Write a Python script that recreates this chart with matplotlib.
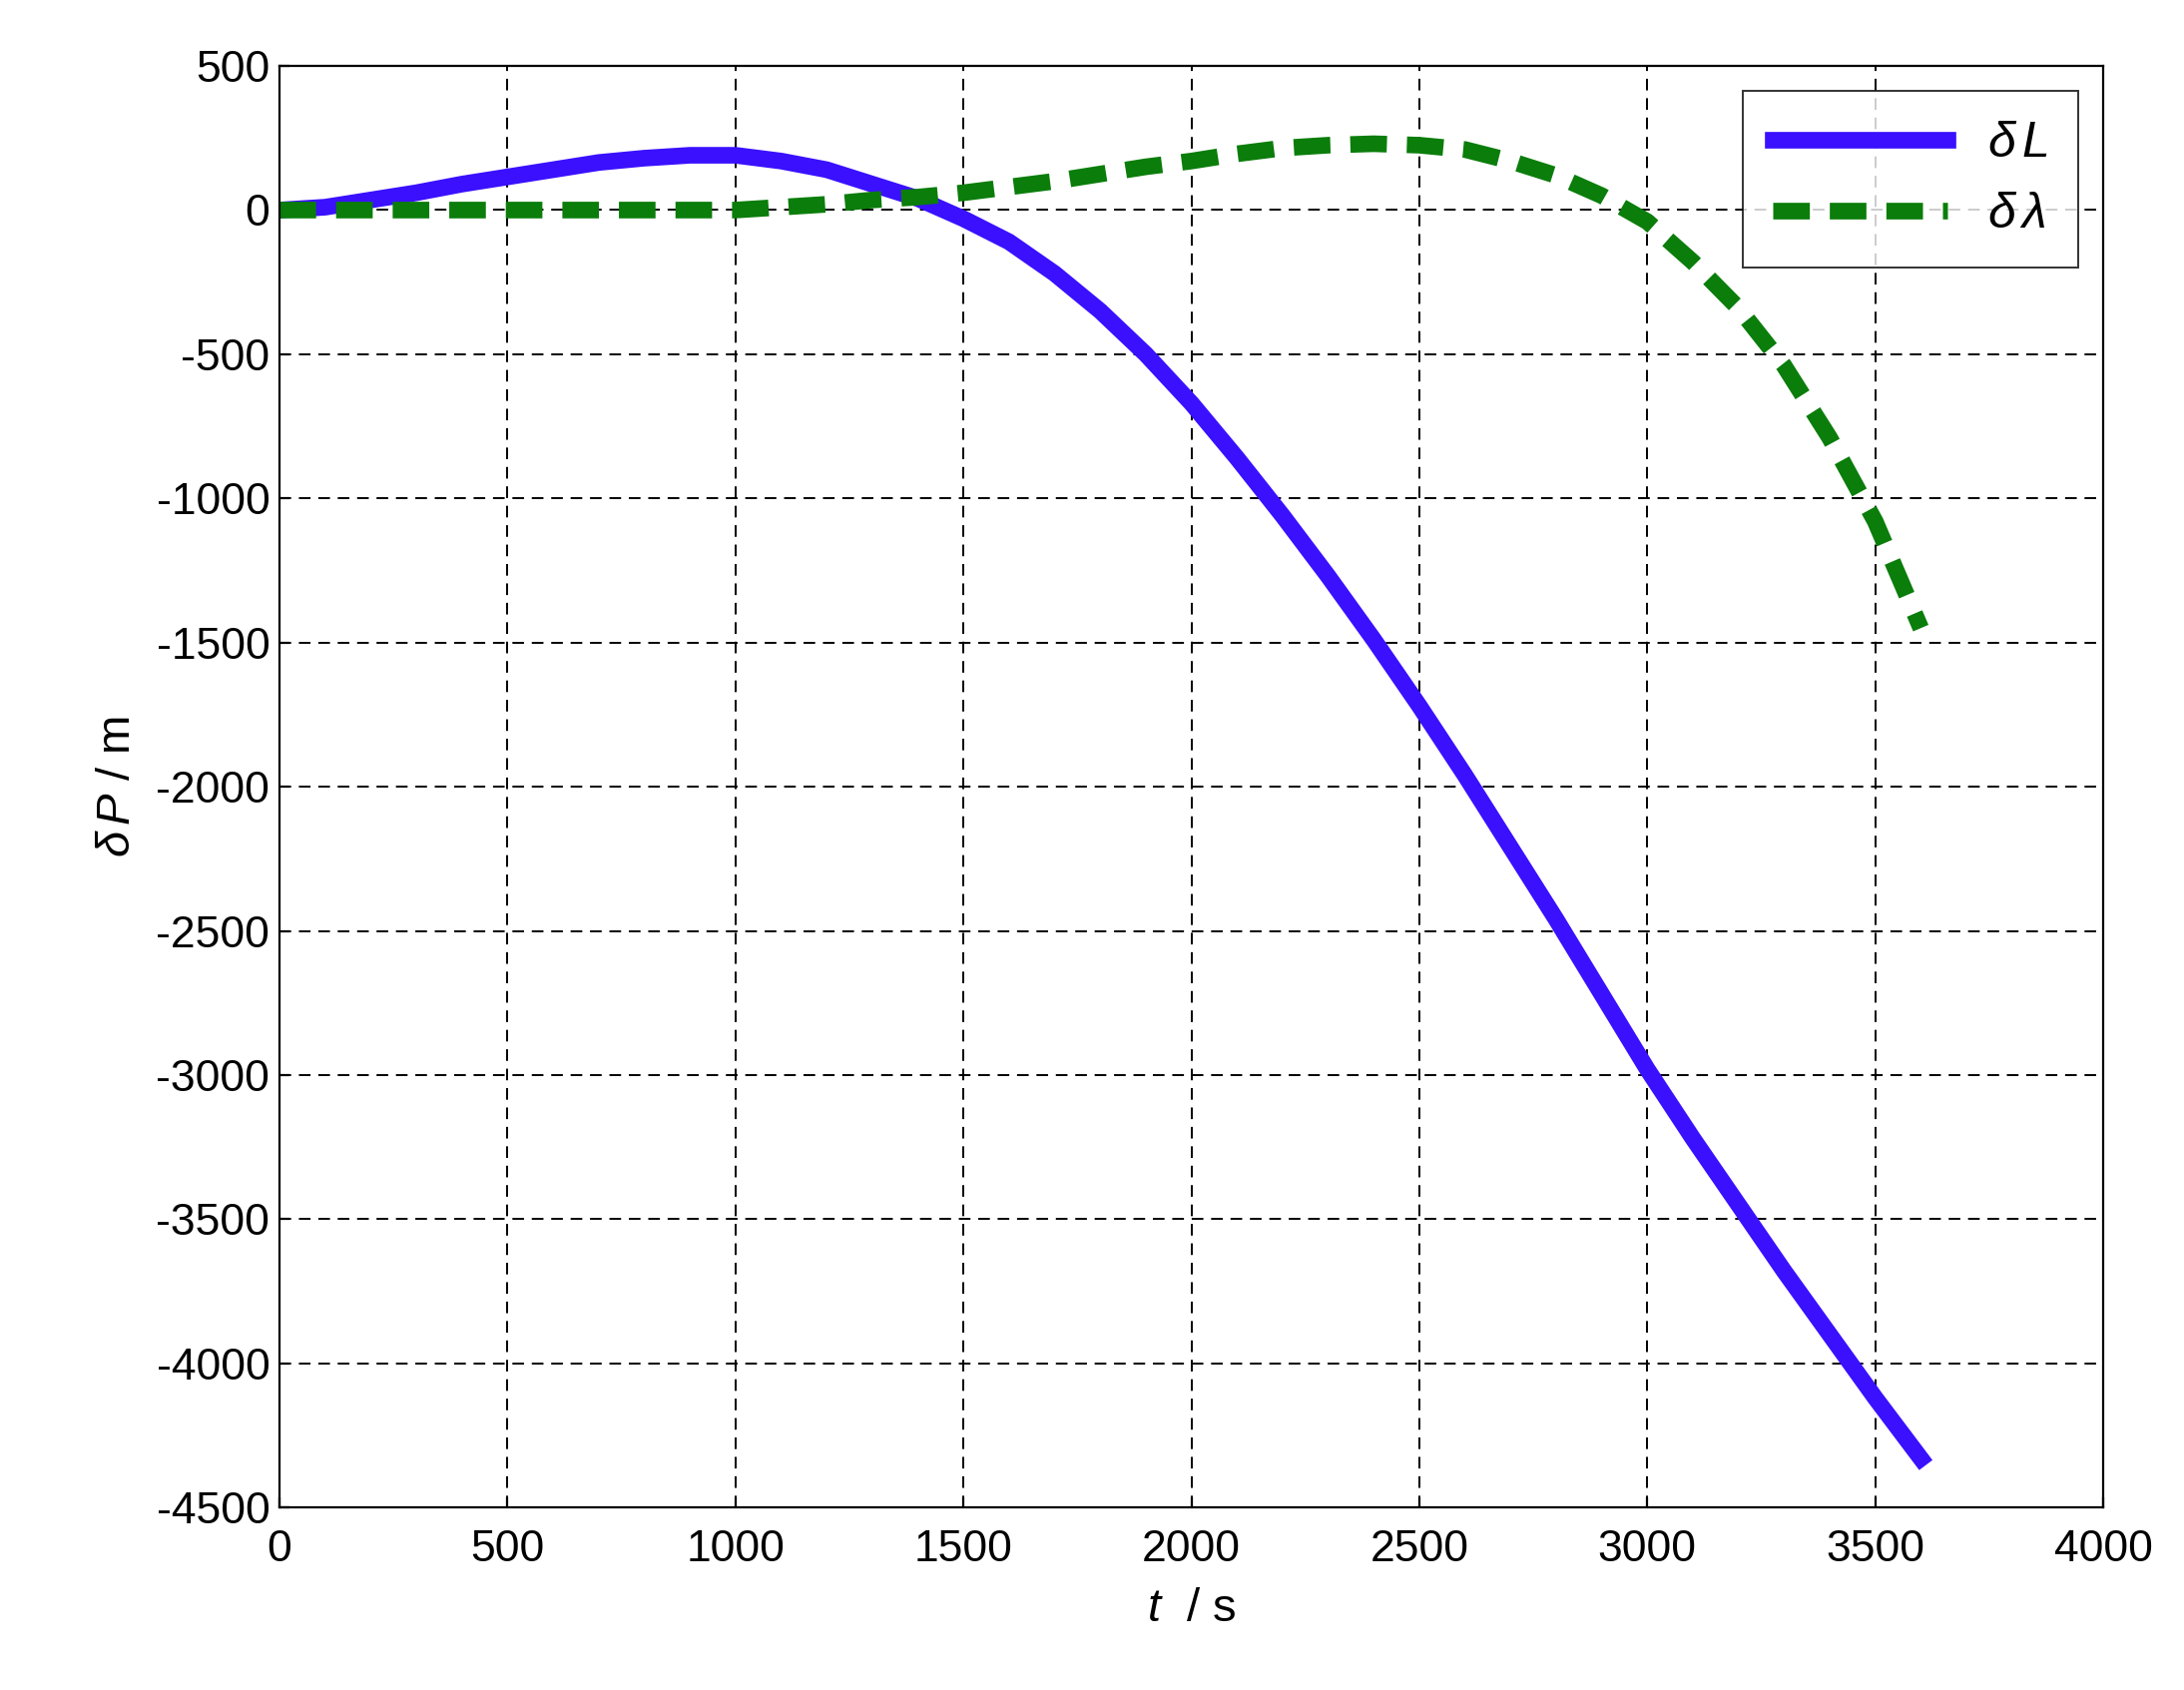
import matplotlib
matplotlib.use("Agg")
import matplotlib.pyplot as plt

# data
t = list(range(0, 3700, 100))
dL = [0, 10, 35, 60, 90, 115, 140, 165, 180, 190, 190, 170, 140, 90, 40, -30,
      -110, -220, -350, -500, -670, -860, -1060, -1270, -1490, -1720, -1960,
      -2210, -2460, -2720, -2980, -3220, -3450, -3680, -3900, -4120, -4330]
dlam = [0, 0, 0, 0, 0, 0, 0, 0, 0, 0, 0, 10, 20, 35, 45, 60, 80, 100, 125, 150,
        170, 195, 215, 225, 230, 225, 210, 170, 120, 50, -40, -180, -340, -540,
        -790, -1080, -1450]

plt.rcParams['font.family'] = ['Liberation Sans', 'DejaVu Sans']
plt.rcParams['mathtext.fontset'] = 'custom'
plt.rcParams['mathtext.it'] = 'Liberation Sans:italic'
plt.rcParams['axes.unicode_minus'] = False

fig = plt.figure(figsize=(10.94, 8.465), dpi=200)
ax = fig.add_axes([0.128, 0.108, 0.835, 0.853])
ax.plot(t, dL, color='#3a10ff', lw=6, label=r'$\delta\,L$')
ax.plot(t, dlam, color='#0a7d0a', lw=6, ls=(0, (2.2, 1.2)), label=r'$\delta\,\lambda$')
ax.set_xlim(0, 4000)
ax.set_ylim(-4500, 500)
ax.set_xticks(range(0, 4001, 500))
ax.set_yticks(range(-4500, 501, 500))
ax.grid(True, color='black', ls=(0, (6, 4)), lw=0.7)
ax.tick_params(labelsize=16, direction='in')
ax.tick_params(axis='x', pad=8)
ax.set_xlabel(r'$t$  / s', fontsize=17, labelpad=6)
ax.set_ylabel(r'$\delta\,P$ / m', fontsize=17, labelpad=6)
leg = ax.legend(loc='upper right', fontsize=18, fancybox=False, edgecolor='black',
                handlelength=3.5, borderpad=0.6)
leg.get_frame().set_linewidth(0.7)
fig.savefig("out.png", dpi=200)
